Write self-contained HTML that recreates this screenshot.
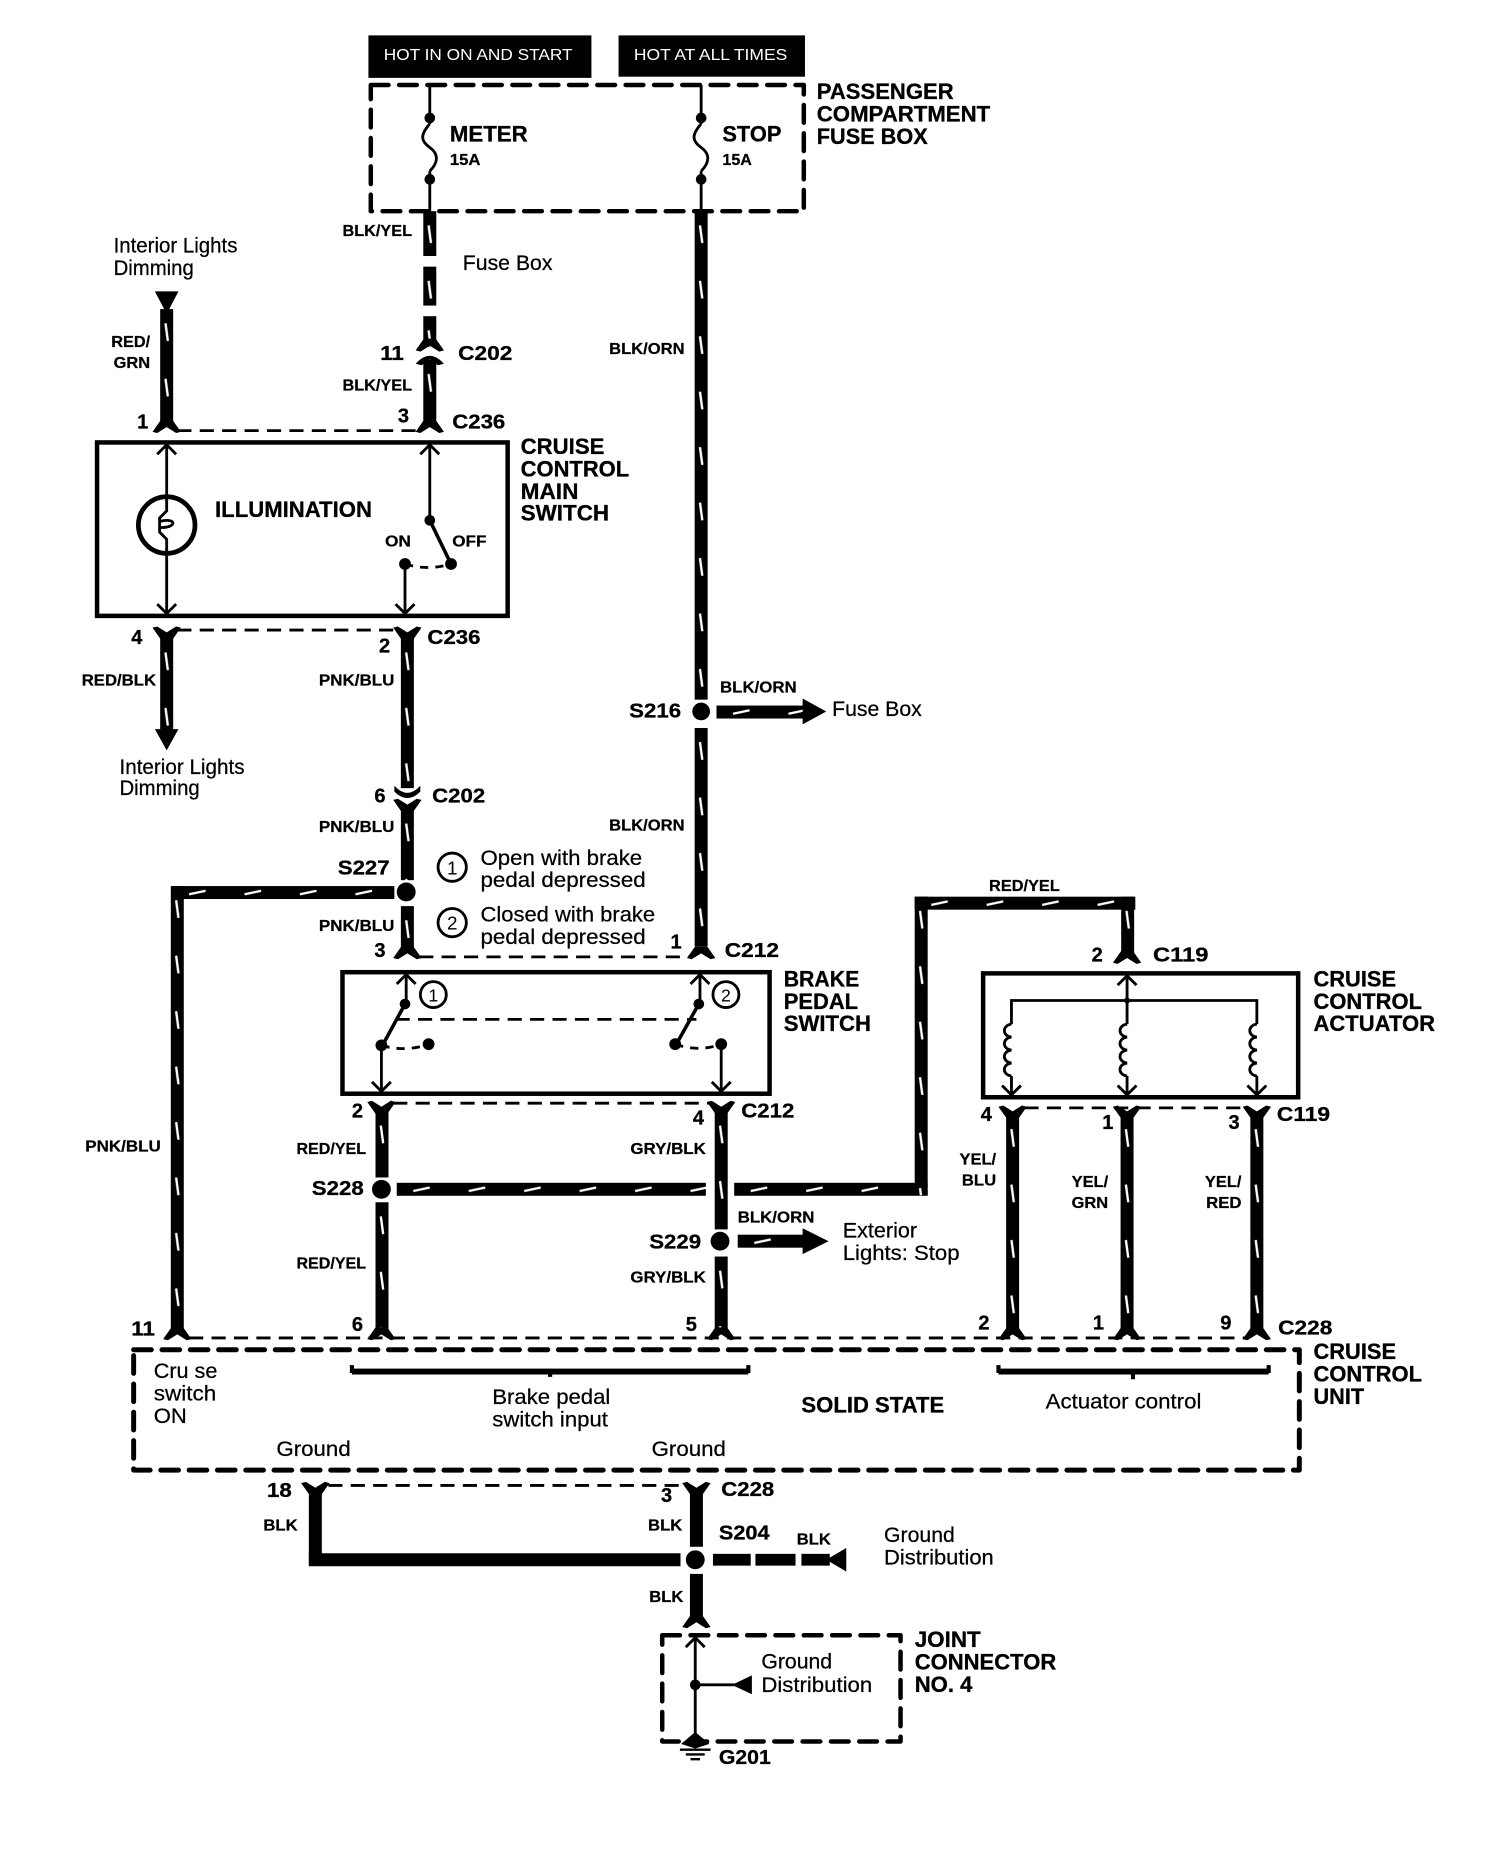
<!DOCTYPE html>
<html><head><meta charset="utf-8"><title>Cruise control wiring diagram</title>
<style>
html,body{margin:0;padding:0;background:#fff}
svg{display:block}
text{font-family:"Liberation Sans",sans-serif;fill:#000}
.h{font-weight:bold;font-size:18.5px;stroke:#000;stroke-width:.25}
.l{font-weight:bold;font-size:13px;stroke:#000;stroke-width:.2}
.n{font-weight:bold;font-size:17px;stroke:#000;stroke-width:.25}
.r{font-size:18px;stroke:#000;stroke-width:.2}
.t{stroke:#000;stroke-width:2.4;fill:none}
.d{stroke:#000;stroke-width:2.4;fill:none;stroke-dasharray:12 7}
.D{stroke:#000;stroke-width:3.8;fill:none;stroke-dasharray:15 9;stroke-linejoin:round;stroke-linecap:round}
.b{stroke:#000;stroke-width:3.8;fill:none}
</style></head><body>
<svg xmlns="http://www.w3.org/2000/svg" width="1504" height="1850" viewBox="0 0 1274.2 1568">
<defs>
<pattern id="vw" width="11" height="47" patternUnits="userSpaceOnUse"><rect width="11" height="47" fill="#000"/><line x1="4.5" y1="12" x2="6.5" y2="27" stroke="#fff" stroke-width="2"/></pattern>
<pattern id="hw" width="47" height="11" patternUnits="userSpaceOnUse"><rect width="47" height="11" fill="#000"/><line x1="14" y1="7" x2="28" y2="4" stroke="#fff" stroke-width="2"/></pattern>
<path id="ft" d="M-12 1 L-5 -9 L5 -9 L12 1 L8 2 L0 -3 L-8 2 Z" fill="#000"/>
<path id="tp" d="M-12 -1 L-5 9 L5 9 L12 -1 L8 -2 L0 3 L-8 -2 Z" fill="#000"/>
<path id="au" d="M-8 9 L0 1 L8 9" fill="none" stroke="#000" stroke-width="2.4"/>
<path id="ad" d="M-8 -9 L0 -1 L8 -9" fill="none" stroke="#000" stroke-width="2.4"/>
<path id="cl" d="M0 0 c-8 1 -8 10 0 11 c-8 1 -8 10 0 11 c-8 1 -8 10 0 11 c-8 1 -8 10 0 11" fill="none" stroke="#000" stroke-width="2.4"/>
<path id="fs" d="M0 0 C-9 10 -7 15 0 20 C7 25 8 32 0 40" fill="none" stroke="#000" stroke-width="2.4"/>
</defs>

<!-- header -->
<rect x="312" y="30" width="189" height="36" fill="#000"/>
<rect x="524" y="30" width="158" height="35" fill="#000"/>
<text x="325" y="51" font-size="13" style="fill:#fff" textLength="160" lengthAdjust="spacingAndGlyphs">HOT IN ON AND START</text>
<text x="537" y="51" font-size="13" style="fill:#fff" textLength="130" lengthAdjust="spacingAndGlyphs">HOT AT ALL TIMES</text>

<!-- fuse box -->
<rect x="314" y="72" width="367" height="107" class="D"/>
<path class="t" d="M364 72V105M364 145V179M594 72V105M594 145V179"/>
<use href="#fs" x="364" y="105"/><use href="#fs" x="594" y="105"/>
<circle cx="364" cy="100" r="4.5"/><circle cx="364" cy="152" r="4.5"/><circle cx="594" cy="100" r="4.5"/><circle cx="594" cy="152" r="4.5"/>
<text class="h" x="381" y="120" textLength="66" lengthAdjust="spacingAndGlyphs">METER</text>
<text class="h" x="612" y="120" textLength="50" lengthAdjust="spacingAndGlyphs">STOP</text>
<text class="l" x="381" y="140" textLength="26" lengthAdjust="spacingAndGlyphs">15A</text>
<text class="l" x="612" y="140" textLength="25" lengthAdjust="spacingAndGlyphs">15A</text>
<text class="h" x="692" y="84" textLength="116" lengthAdjust="spacingAndGlyphs">PASSENGER</text>
<text class="h" x="692" y="103" textLength="147" lengthAdjust="spacingAndGlyphs">COMPARTMENT</text>
<text class="h" x="692" y="122" textLength="94" lengthAdjust="spacingAndGlyphs">FUSE BOX</text>

<!-- meter wire -->
<g transform="translate(358.5,179)"><rect width="11" height="38" fill="url(#vw)"/></g>
<g transform="translate(358.5,226)"><rect width="11" height="33" fill="url(#vw)"/></g>
<g transform="translate(358.5,268)"><rect width="11" height="26" fill="url(#vw)"/></g>
<use href="#ft" x="364" y="296"/>
<path d="M353 308 Q364 296 375 308 L371 309 L364 304 L357 309Z" fill="#000" stroke="#000"/>
<g transform="translate(358.5,305)"><rect width="11" height="53" fill="url(#vw)"/></g>
<use href="#ft" x="364" y="365"/>
<text class="l" x="290" y="200" textLength="59" lengthAdjust="spacingAndGlyphs">BLK/YEL</text>
<text class="r" x="392" y="229" textLength="76" lengthAdjust="spacingAndGlyphs">Fuse Box</text>
<text class="n" x="322" y="305" textLength="20" lengthAdjust="spacingAndGlyphs">11</text>
<text class="n" x="388" y="305" textLength="46" lengthAdjust="spacingAndGlyphs">C202</text>
<text class="l" x="290" y="331" textLength="59" lengthAdjust="spacingAndGlyphs">BLK/YEL</text>
<text class="n" x="337" y="358">3</text>
<text class="n" x="383" y="363" textLength="45" lengthAdjust="spacingAndGlyphs">C236</text>
<line class="d" x1="150" y1="365" x2="356" y2="365"/>

<!-- stop wire -->
<g transform="translate(588.5,179)"><rect width="11" height="414" fill="url(#vw)"/></g>
<g transform="translate(588.5,617)"><rect width="11" height="185" fill="url(#vw)"/></g>
<use href="#ft" x="594" y="811"/>
<text class="l" x="516" y="300" textLength="64" lengthAdjust="spacingAndGlyphs">BLK/ORN</text>
<text class="l" x="516" y="704" textLength="64" lengthAdjust="spacingAndGlyphs">BLK/ORN</text>
<circle cx="594" cy="603" r="7.5"/>
<text class="n" x="533" y="608" textLength="44" lengthAdjust="spacingAndGlyphs">S216</text>
<g transform="translate(607,598)"><rect width="74" height="11" fill="url(#hw)"/></g>
<path d="M680 592L700 603L680 614Z"/>
<text class="l" x="610" y="587" textLength="65" lengthAdjust="spacingAndGlyphs">BLK/ORN</text>
<text class="r" x="705" y="607" textLength="76" lengthAdjust="spacingAndGlyphs">Fuse Box</text>

<!-- interior lights -->
<text class="r" x="96" y="214" textLength="105" lengthAdjust="spacingAndGlyphs">Interior Lights</text>
<text class="r" x="96" y="233" textLength="68" lengthAdjust="spacingAndGlyphs">Dimming</text>
<path d="M131 247H151L141 266Z"/>
<g transform="translate(135.5,262)"><rect width="11" height="96" fill="url(#vw)"/></g>
<use href="#ft" x="141" y="365"/>
<text class="l" x="94" y="294" textLength="33" lengthAdjust="spacingAndGlyphs">RED/</text>
<text class="l" x="96" y="312" textLength="31" lengthAdjust="spacingAndGlyphs">GRN</text>
<text class="n" x="116" y="363">1</text>

<!-- main switch -->
<rect x="82" y="375" width="348" height="147" class="b"/>
<text class="h" x="441" y="385" textLength="71" lengthAdjust="spacingAndGlyphs">CRUISE</text>
<text class="h" x="441" y="404" textLength="92" lengthAdjust="spacingAndGlyphs">CONTROL</text>
<text class="h" x="441" y="423" textLength="49" lengthAdjust="spacingAndGlyphs">MAIN</text>
<text class="h" x="441" y="441" textLength="75" lengthAdjust="spacingAndGlyphs">SWITCH</text>
<line class="t" x1="141" y1="376" x2="141" y2="425"/>
<line class="t" x1="141" y1="465" x2="141" y2="521"/>
<use href="#au" x="141" y="376"/><use href="#ad" x="141" y="521"/>
<circle cx="141" cy="445" r="24" fill="none" stroke="#000" stroke-width="4"/>
<path class="t" d="M141 421V433L135 439V451L141 457V469M135 442C150 438 150 448 135 447"/>
<text class="h" x="182" y="438" textLength="133" lengthAdjust="spacingAndGlyphs">ILLUMINATION</text>
<line class="t" x1="364" y1="376" x2="364" y2="441"/><use href="#au" x="364" y="376"/>
<circle cx="364" cy="441" r="4.5"/>
<line x1="364" y1="441" x2="382" y2="478" stroke="#000" stroke-width="3"/>
<circle cx="382" cy="478" r="5"/><circle cx="343" cy="478" r="5"/>
<path class="t" d="M343 478Q362 484 382 478" style="stroke-dasharray:7 6"/>
<line class="t" x1="343" y1="478" x2="343" y2="521"/><use href="#ad" x="343" y="521"/>
<text class="l" x="326" y="463" textLength="22" lengthAdjust="spacingAndGlyphs">ON</text>
<text class="l" x="383" y="463" textLength="29" lengthAdjust="spacingAndGlyphs">OFF</text>

<!-- below main switch -->
<line class="d" x1="150" y1="534" x2="336" y2="534"/>
<use href="#tp" x="141" y="533"/><use href="#tp" x="345" y="533"/>
<text class="n" x="111" y="546">4</text><text class="n" x="321" y="553">2</text>
<text class="n" x="362" y="546" textLength="45" lengthAdjust="spacingAndGlyphs">C236</text>
<g transform="translate(135.5,541)"><rect width="11" height="80" fill="url(#vw)"/></g>
<path d="M131 618H151L141 636Z"/>
<text class="l" x="69" y="581" textLength="63" lengthAdjust="spacingAndGlyphs">RED/BLK</text>
<text class="r" x="101" y="656" textLength="106" lengthAdjust="spacingAndGlyphs">Interior Lights</text>
<text class="r" x="101" y="674" textLength="68" lengthAdjust="spacingAndGlyphs">Dimming</text>
<g transform="translate(339.5,541)"><rect width="11" height="127" fill="url(#vw)"/></g>
<path d="M334 666 Q345 678 356 666 L356 671 Q345 682 334 671Z"/>
<use href="#tp" x="345" y="679"/>
<text class="l" x="270" y="581" textLength="64" lengthAdjust="spacingAndGlyphs">PNK/BLU</text>
<text class="n" x="317" y="680">6</text>
<text class="n" x="366" y="680" textLength="45" lengthAdjust="spacingAndGlyphs">C202</text>
<g transform="translate(339.5,686)"><rect width="11" height="60" fill="url(#vw)"/></g>
<text class="l" x="270" y="705" textLength="64" lengthAdjust="spacingAndGlyphs">PNK/BLU</text>
<circle cx="344" cy="756" r="8"/>
<text class="n" x="286" y="741" textLength="44" lengthAdjust="spacingAndGlyphs">S227</text>
<g transform="translate(339.5,768)"><rect width="11" height="36" fill="url(#vw)"/></g>
<text class="l" x="270" y="789" textLength="64" lengthAdjust="spacingAndGlyphs">PNK/BLU</text>
<use href="#ft" x="345" y="811"/>
<text class="n" x="317" y="811">3</text>
<text class="n" x="568" y="804">1</text>
<text class="n" x="614" y="811" textLength="46" lengthAdjust="spacingAndGlyphs">C212</text>
<line class="d" x1="355" y1="811" x2="586" y2="811"/>

<!-- left wire -->
<g transform="translate(146,751)"><rect width="188" height="11" fill="url(#hw)"/></g>
<g transform="translate(144.5,751)"><rect width="11" height="376" fill="url(#vw)"/></g>
<text class="l" x="72" y="976" textLength="64" lengthAdjust="spacingAndGlyphs">PNK/BLU</text>

<!-- legend -->
<circle cx="383" cy="735" r="12" fill="none" stroke="#000" stroke-width="2.4"/>
<text x="383" y="741" font-size="16" text-anchor="middle">1</text>
<circle cx="383" cy="782" r="12" fill="none" stroke="#000" stroke-width="2.4"/>
<text x="383" y="788" font-size="16" text-anchor="middle">2</text>
<text class="r" x="407" y="733" textLength="137" lengthAdjust="spacingAndGlyphs">Open with brake</text>
<text class="r" x="407" y="752" textLength="140" lengthAdjust="spacingAndGlyphs">pedal depressed</text>
<text class="r" x="407" y="781" textLength="148" lengthAdjust="spacingAndGlyphs">Closed with brake</text>
<text class="r" x="407" y="800" textLength="140" lengthAdjust="spacingAndGlyphs">pedal depressed</text>

<!-- brake switch -->
<rect x="290" y="824" width="362" height="103" class="b"/>
<text class="h" x="664" y="836" textLength="64" lengthAdjust="spacingAndGlyphs">BRAKE</text>
<text class="h" x="664" y="855" textLength="63" lengthAdjust="spacingAndGlyphs">PEDAL</text>
<text class="h" x="664" y="874" textLength="74" lengthAdjust="spacingAndGlyphs">SWITCH</text>
<line class="t" x1="344" y1="825" x2="344" y2="851"/><use href="#au" x="344" y="825"/>
<circle cx="343" cy="851" r="4.5"/>
<line x1="343" y1="851" x2="325" y2="884" stroke="#000" stroke-width="3"/>
<circle cx="323" cy="886" r="5"/><circle cx="363" cy="885" r="5"/>
<path class="t" d="M323 886Q343 892 363 885" style="stroke-dasharray:7 6"/>
<line class="t" x1="323" y1="886" x2="323" y2="926"/><use href="#ad" x="323" y="926"/>
<circle cx="367" cy="843" r="11" fill="none" stroke="#000" stroke-width="2.4"/>
<text x="367" y="849" font-size="15" text-anchor="middle">1</text>
<line class="d" x1="335" y1="864" x2="590" y2="864"/>
<line class="t" x1="593" y1="825" x2="593" y2="851"/><use href="#au" x="593" y="825"/>
<circle cx="592" cy="851" r="4.5"/>
<line x1="592" y1="851" x2="573" y2="885" stroke="#000" stroke-width="3"/>
<circle cx="572" cy="885" r="5"/><circle cx="611" cy="885" r="5"/>
<path class="t" d="M572 885Q592 892 611 885" style="stroke-dasharray:7 6"/>
<line class="t" x1="611" y1="885" x2="611" y2="926"/><use href="#ad" x="611" y="926"/>
<circle cx="615" cy="843" r="11" fill="none" stroke="#000" stroke-width="2.4"/>
<text x="615" y="849" font-size="15" text-anchor="middle">2</text>

<!-- below brake switch -->
<line class="d" x1="333" y1="935" x2="602" y2="935"/>
<use href="#tp" x="323" y="935"/><use href="#tp" x="611" y="935"/>
<text class="n" x="298" y="947">2</text><text class="n" x="587" y="953">4</text>
<text class="n" x="628" y="947" textLength="45" lengthAdjust="spacingAndGlyphs">C212</text>
<g transform="translate(318,942)"><rect width="11" height="56" fill="url(#vw)"/></g>
<circle cx="323" cy="1008" r="8"/>
<g transform="translate(318,1019)"><rect width="11" height="108" fill="url(#vw)"/></g>
<text class="l" x="251" y="978" textLength="59" lengthAdjust="spacingAndGlyphs">RED/YEL</text>
<text class="l" x="251" y="1075" textLength="59" lengthAdjust="spacingAndGlyphs">RED/YEL</text>
<text class="n" x="264" y="1013" textLength="44" lengthAdjust="spacingAndGlyphs">S228</text>
<g transform="translate(336,1002.5)"><rect width="262" height="11" fill="url(#hw)"/></g>
<g transform="translate(622,1002.5)"><rect width="164" height="11" fill="url(#hw)"/></g>
<g transform="translate(775,760)"><rect width="11" height="253" fill="url(#vw)"/></g>
<g transform="translate(775,760)"><rect width="187" height="11" fill="url(#hw)"/></g>
<g transform="translate(950,760)"><rect width="11" height="48" fill="url(#vw)"/></g>
<use href="#ft" x="955" y="815"/>
<text class="l" x="838" y="755" textLength="60" lengthAdjust="spacingAndGlyphs">RED/YEL</text>
<text class="n" x="925" y="815">2</text>
<text class="n" x="977" y="815" textLength="47" lengthAdjust="spacingAndGlyphs">C119</text>
<g transform="translate(605.5,942)"><rect width="11" height="100" fill="url(#vw)"/></g>
<circle cx="610" cy="1052" r="8"/>
<g transform="translate(605.5,1065)"><rect width="11" height="62" fill="url(#vw)"/></g>
<text class="l" x="534" y="978" textLength="64" lengthAdjust="spacingAndGlyphs">GRY/BLK</text>
<text class="l" x="534" y="1087" textLength="64" lengthAdjust="spacingAndGlyphs">GRY/BLK</text>
<text class="n" x="550" y="1058" textLength="44" lengthAdjust="spacingAndGlyphs">S229</text>
<g transform="translate(625,1046.5)"><rect width="56" height="11" fill="url(#hw)"/></g>
<path d="M680 1041L702 1052L680 1063Z"/>
<text class="l" x="625" y="1036" textLength="65" lengthAdjust="spacingAndGlyphs">BLK/ORN</text>
<text class="r" x="714" y="1049" textLength="63" lengthAdjust="spacingAndGlyphs">Exterior</text>
<text class="r" x="714" y="1068" textLength="99" lengthAdjust="spacingAndGlyphs">Lights: Stop</text>

<!-- actuator -->
<rect x="833" y="825" width="267" height="105" class="b"/>
<text class="h" x="1113" y="836" textLength="70" lengthAdjust="spacingAndGlyphs">CRUISE</text>
<text class="h" x="1113" y="855" textLength="92" lengthAdjust="spacingAndGlyphs">CONTROL</text>
<text class="h" x="1113" y="874" textLength="103" lengthAdjust="spacingAndGlyphs">ACTUATOR</text>
<path class="t" d="M955 826V848M857 868V848H1065V868M955 848V868M857 912V929M955 912V929M1065 912V929"/>
<use href="#au" x="955" y="826"/>
<use href="#cl" x="857" y="868"/><use href="#cl" x="955" y="868"/><use href="#cl" x="1065" y="868"/>
<use href="#ad" x="857" y="929"/><use href="#ad" x="955" y="929"/><use href="#ad" x="1065" y="929"/>
<circle cx="955" cy="848" r="2.5"/>
<line class="d" x1="868" y1="939" x2="1055" y2="939"/>
<use href="#tp" x="858" y="939"/><use href="#tp" x="955" y="939"/><use href="#tp" x="1065" y="939"/>
<g transform="translate(852.5,945)"><rect width="11" height="182" fill="url(#vw)"/></g>
<g transform="translate(949.5,945)"><rect width="11" height="182" fill="url(#vw)"/></g>
<g transform="translate(1059.5,945)"><rect width="11" height="182" fill="url(#vw)"/></g>
<text class="n" x="831" y="950">4</text><text class="n" x="934" y="957">1</text><text class="n" x="1041" y="957">3</text>
<text class="n" x="1082" y="950" textLength="45" lengthAdjust="spacingAndGlyphs">C119</text>
<text class="l" x="813" y="987" textLength="31" lengthAdjust="spacingAndGlyphs">YEL/</text>
<text class="l" x="815" y="1005" textLength="29" lengthAdjust="spacingAndGlyphs">BLU</text>
<text class="l" x="908" y="1006" textLength="31" lengthAdjust="spacingAndGlyphs">YEL/</text>
<text class="l" x="908" y="1024" textLength="31" lengthAdjust="spacingAndGlyphs">GRN</text>
<text class="l" x="1021" y="1006" textLength="31" lengthAdjust="spacingAndGlyphs">YEL/</text>
<text class="l" x="1022" y="1024" textLength="30" lengthAdjust="spacingAndGlyphs">RED</text>

<!-- C228 top -->
<line class="d" x1="160" y1="1134" x2="1056" y2="1134"/>
<use href="#ft" x="150" y="1134"/><use href="#ft" x="323" y="1134"/><use href="#ft" x="611" y="1134"/>
<use href="#ft" x="858" y="1134"/><use href="#ft" x="955" y="1134"/><use href="#ft" x="1065" y="1134"/>
<text class="n" x="111" y="1132" textLength="20" lengthAdjust="spacingAndGlyphs">11</text>
<text class="n" x="298" y="1128">6</text><text class="n" x="581" y="1128">5</text>
<text class="n" x="829" y="1127">2</text><text class="n" x="926" y="1127">1</text><text class="n" x="1034" y="1127">9</text>
<text class="n" x="1083" y="1131" textLength="46" lengthAdjust="spacingAndGlyphs">C228</text>

<!-- solid state box -->
<rect x="113" y="1144" width="988" height="102" class="D" style="stroke-width:4.2"/>
<text class="h" x="1113" y="1152" textLength="70" lengthAdjust="spacingAndGlyphs">CRUISE</text>
<text class="h" x="1113" y="1171" textLength="92" lengthAdjust="spacingAndGlyphs">CONTROL</text>
<text class="h" x="1113" y="1190" textLength="43" lengthAdjust="spacingAndGlyphs">UNIT</text>
<text class="r" x="130" y="1168" textLength="54" lengthAdjust="spacingAndGlyphs">Cru se</text>
<text class="r" x="130" y="1187" textLength="53" lengthAdjust="spacingAndGlyphs">switch</text>
<text class="r" x="130" y="1206" textLength="28" lengthAdjust="spacingAndGlyphs">ON</text>
<path d="M298 1157V1162H466V1167V1162H634V1157" fill="none" stroke="#000" stroke-width="3.5"/>
<rect x="298" y="1160" width="336" height="5"/>
<text class="r" x="417" y="1190" textLength="100" lengthAdjust="spacingAndGlyphs">Brake pedal</text>
<text class="r" x="417" y="1209" textLength="98" lengthAdjust="spacingAndGlyphs">switch input</text>
<text class="h" x="679" y="1197" textLength="121" lengthAdjust="spacingAndGlyphs">SOLID STATE</text>
<path d="M846 1157V1162H960V1169V1162H1075V1157" fill="none" stroke="#000" stroke-width="3.5"/>
<rect x="846" y="1160" width="229" height="5"/>
<text class="r" x="886" y="1194" textLength="132" lengthAdjust="spacingAndGlyphs">Actuator control</text>
<text class="r" x="234" y="1234" textLength="63" lengthAdjust="spacingAndGlyphs">Ground</text>
<text class="r" x="552" y="1234" textLength="63" lengthAdjust="spacingAndGlyphs">Ground</text>

<!-- ground -->
<line class="d" x1="278" y1="1259" x2="580" y2="1259"/>
<use href="#tp" x="267" y="1258"/><use href="#tp" x="590" y="1258"/>
<text class="n" x="226" y="1269" textLength="21" lengthAdjust="spacingAndGlyphs">18</text>
<text class="n" x="560" y="1273">3</text>
<text class="n" x="611" y="1268" textLength="45" lengthAdjust="spacingAndGlyphs">C228</text>
<text class="l" x="223" y="1297" textLength="29" lengthAdjust="spacingAndGlyphs">BLK</text>
<text class="l" x="549" y="1297" textLength="29" lengthAdjust="spacingAndGlyphs">BLK</text>
<text class="n" x="609" y="1305" textLength="43" lengthAdjust="spacingAndGlyphs">S204</text>
<text class="l" x="675" y="1309" textLength="29" lengthAdjust="spacingAndGlyphs">BLK</text>
<text class="r" x="749" y="1307" textLength="60" lengthAdjust="spacingAndGlyphs">Ground</text>
<text class="r" x="749" y="1326" textLength="93" lengthAdjust="spacingAndGlyphs">Distribution</text>
<text class="l" x="550" y="1358" textLength="29" lengthAdjust="spacingAndGlyphs">BLK</text>
<rect x="261.5" y="1264" width="11" height="63"/>
<rect x="261.5" y="1316.5" width="315" height="11"/>
<rect x="584.5" y="1264" width="11" height="47"/>
<circle cx="589" cy="1322" r="8"/>
<rect x="604" y="1317" width="32" height="10"/><rect x="640" y="1317" width="34" height="10"/><rect x="679" y="1317" width="24" height="10"/>
<path d="M700 1322L717 1312V1332Z"/>
<rect x="584.5" y="1334" width="11" height="36"/>
<use href="#ft" x="590" y="1378"/>

<!-- joint connector -->
<rect x="561" y="1386" width="202" height="90" class="D"/>
<line class="t" x1="589" y1="1387" x2="589" y2="1470"/><use href="#au" x="589" y="1387"/>
<circle cx="589" cy="1428" r="4.5"/>
<line class="t" x1="589" y1="1428" x2="622" y2="1428"/>
<path d="M620 1428L637 1420V1436Z"/>
<text class="r" x="645" y="1414" textLength="60" lengthAdjust="spacingAndGlyphs">Ground</text>
<text class="r" x="645" y="1434" textLength="94" lengthAdjust="spacingAndGlyphs">Distribution</text>
<text class="h" x="775" y="1396" textLength="56" lengthAdjust="spacingAndGlyphs">JOINT</text>
<text class="h" x="775" y="1415" textLength="120" lengthAdjust="spacingAndGlyphs">CONNECTOR</text>
<text class="h" x="775" y="1434" textLength="49" lengthAdjust="spacingAndGlyphs">NO. 4</text>
<path d="M589 1468L601 1478L589 1482L577 1478Z"/>
<path d="M576 1483H602M581 1487H597M585 1491H593" stroke="#000" stroke-width="2" fill="none"/>
<text class="n" x="609" y="1495" textLength="44" lengthAdjust="spacingAndGlyphs">G201</text>
</svg>
</body></html>
